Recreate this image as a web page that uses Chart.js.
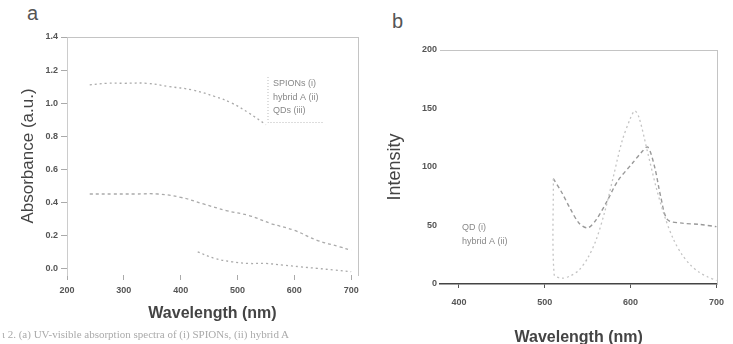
<!DOCTYPE html>
<html>
<head>
<meta charset="utf-8">
<script src="https://cdn.jsdelivr.net/npm/chart.js@4/dist/chart.umd.min.js"></script>
<style>
	html, body { margin: 0; padding: 0; background: #fff; overflow: hidden; width: 733px; height: 344px; }
	canvas { position: absolute; top: 0; }
	.panel { position: absolute; font-family: 'Liberation Sans', Arial, sans-serif; font-size: 20px; color: #555; }
	#caption { position: absolute; left: 2px; top: 328px; font-family: 'Liberation Serif', serif; font-size: 11px; color: #aaa; white-space: nowrap; }
</style>
</head>
<body>
<div class="panel" style="left:27px; top:2px;">a</div>
<div class="panel" style="left:392px; top:10px;">b</div>
<canvas id="Absorbance" width="370" height="344" style="left:0px;"></canvas>
<canvas id="Emission" width="363" height="352" style="left:370px;"></canvas>
<div id="caption">ι 2. (a) UV-visible absorption spectra of (i) SPIONs, (ii) hybrid A</div>
<script>
// panel a: absorbance
const absNames = ['SPIONs (i)', 'hybrid A (ii)', 'QDs (iii)'];
const spionWl = [240, 270, 300, 340, 380, 420, 460, 490, 520, 550];
const spionAbs = [1.11, 1.12, 1.12, 1.12, 1.10, 1.08, 1.04, 1.00, 0.94, 0.87];
const hybridWl = [240, 280, 320, 360, 400, 440, 480, 520, 560, 600, 640, 680, 700];
const hybridAbs = [0.45, 0.45, 0.45, 0.45, 0.43, 0.39, 0.35, 0.32, 0.27, 0.23, 0.17, 0.13, 0.11];
const qdWl = [430, 460, 490, 520, 550, 580, 610, 640, 670, 700];
const qdAbs = [0.10, 0.06, 0.04, 0.03, 0.03, 0.02, 0.01, 0.0, -0.01, -0.02];
const absTicksX = [200, 300, 400, 500, 600, 700];
const absTicksY = [0.0, 0.2, 0.4, 0.6, 0.8, 1.0, 1.2, 1.4];

// panel b: emission
const emNames = ['QD (i)', 'hybrid A (ii)'];
const qdEmWl = [510, 511, 520, 530, 540, 550, 560, 570, 580, 590, 600, 605, 610, 620, 630, 640, 650, 660, 670, 680, 690, 700];
const qdEm = [90, 8, 5, 7, 12, 22, 38, 62, 92, 122, 142, 148, 142, 112, 82, 57, 38, 25, 16, 10, 6, 3];
const hybridEmWl = [510, 520, 530, 540, 550, 560, 572, 585, 603, 612, 620, 628, 635, 643, 660, 680, 700];
const hybridEm = [90, 78, 64, 52, 48, 55, 70, 88, 104, 112, 117, 100, 75, 55, 52, 51, 49];
const emTicksX = [400, 500, 600, 700];
const emTicksY = [0, 50, 100, 150, 200];

const pts = (xs, ys) => xs.map((x, i) => ({x: x, y: ys[i]}));
const fixTicks = vals => scale => { scale.ticks = vals.map(v => ({value: v})); };
const fixWidth = w => scale => { scale.width = w; };
const fixHeight = h => scale => { scale.height = h; };
const tickFont = {family: "'Liberation Sans', Arial, sans-serif", size: 9, weight: 'bold'};

const frameAxis = (pos) => ({
	position: pos,
	display: true,
	ticks: {display: false},
	grid: {display: false},
	border: {display: true, color: '#c4c4c4', dash: [2, 3]},
	afterFit: pos === 'top' ? fixHeight(0) : fixWidth(0)
});

// little legend text blocks drawn inside the plot area
function legendPlugin(names, x0, y0, step, box) {
	return {
		id: 'legendText',
		afterDraw(chart) {
			const ctx = chart.ctx;
			ctx.save();
			ctx.fillStyle = '#888';
			ctx.font = "9px 'Liberation Sans', Arial, sans-serif";
			ctx.textBaseline = 'middle';
			names.forEach((n, i) => ctx.fillText(n, x0, y0 + i * step));
			if (box) {
				ctx.strokeStyle = '#bbb';
				ctx.setLineDash([1, 2]);
				ctx.beginPath();
				ctx.moveTo(x0 - 5, y0 - 7);
				ctx.lineTo(x0 - 5, y0 + step * names.length - 2);
				ctx.lineTo(x0 + 50, y0 + step * names.length - 2);
				ctx.stroke();
			}
			ctx.restore();
		}
	};
}

const absCtx = document.getElementById('Absorbance').getContext('2d');
window.absChart = new Chart(absCtx, {
	type: 'line',
	data: {
		datasets: [{
			label: absNames[0],
			data: pts(spionWl, spionAbs),
			borderColor: '#aaa',
			borderWidth: 1.3,
			borderDash: [2, 3],
			pointRadius: 0,
			tension: 0.4
		}, {
			label: absNames[1],
			data: pts(hybridWl, hybridAbs),
			borderColor: '#aaa',
			borderWidth: 1.3,
			borderDash: [3, 3],
			pointRadius: 0,
			tension: 0.4
		}, {
			label: absNames[2],
			data: pts(qdWl, qdAbs),
			borderColor: '#aaa',
			borderWidth: 1.3,
			borderDash: [2, 3],
			pointRadius: 0,
			tension: 0.4
		}]
	},
	options: {
		responsive: false,
		animation: false,
		layout: {padding: {top: 37, right: 12, left: 0, bottom: 0}},
		plugins: {legend: {display: false}, tooltip: {enabled: false}},
		scales: {
			x: {
				type: 'linear',
				min: 200,
				max: 712,
				afterBuildTicks: fixTicks(absTicksX),
				afterFit: fixHeight(69),
				ticks: {color: '#555', font: tickFont, padding: 5, maxRotation: 0},
				grid: {drawOnChartArea: false, tickLength: 5, color: '#aaa'},
				border: {display: false},
				title: {display: true, text: 'Wavelength (nm)', color: '#444', padding: {top: 0, bottom: 21},
					font: {family: "'Liberation Sans', Arial, sans-serif", size: 16, weight: 'bold'}}
			},
			y: {
				min: -0.04,
				max: 1.4,
				afterBuildTicks: fixTicks(absTicksY),
				afterFit: fixWidth(67),
				ticks: {color: '#555', font: tickFont, padding: 3, callback: v => v.toFixed(1)},
				grid: {drawOnChartArea: false, tickLength: 6, color: '#aaa'},
				border: {display: true, color: '#ccc', dash: [2, 2]},
				title: {display: true, text: 'Absorbance (a.u.)', color: '#444', padding: {top: 18, bottom: 0},
					font: {family: "'Liberation Sans', Arial, sans-serif", size: 17}}
			},
			x2: frameAxis('top'),
			y2: frameAxis('right')
		}
	},
	plugins: [legendPlugin(absNames, 273, 84, 13.5, true)]
});

const emCtx = document.getElementById('Emission').getContext('2d');
window.emChart = new Chart(emCtx, {
	type: 'line',
	data: {
		datasets: [{
			label: emNames[0],
			data: pts(qdEmWl, qdEm),
			borderColor: '#c4c4c4',
			borderWidth: 1.3,
			borderDash: [2, 3],
			pointRadius: 0,
			tension: 0.3
		}, {
			label: emNames[1],
			data: pts(hybridEmWl, hybridEm),
			borderColor: '#999',
			borderWidth: 1.4,
			borderDash: [4, 3],
			pointRadius: 0,
			tension: 0.3
		}]
	},
	options: {
		responsive: false,
		animation: false,
		layout: {padding: {top: 50, right: 10, left: 0, bottom: 0}},
		plugins: {legend: {display: false}, tooltip: {enabled: false}},
		scales: {
			x: {
				type: 'linear',
				min: 378,
				max: 701,
				afterBuildTicks: fixTicks(emTicksX),
				afterFit: fixHeight(68),
				ticks: {color: '#555', font: tickFont, padding: 9, maxRotation: 0},
				grid: {drawOnChartArea: false, tickLength: 4, color: '#555'},
				border: {display: true, color: '#444', width: 1.5},
				title: {display: true, text: 'Wavelength (nm)', color: '#444', padding: {top: 0, bottom: 5},
					font: {family: "'Liberation Sans', Arial, sans-serif", size: 16, weight: 'bold'}}
			},
			y: {
				min: 0,
				max: 200,
				afterBuildTicks: fixTicks(emTicksY),
				afterFit: fixWidth(70),
				ticks: {color: '#555', font: tickFont, padding: 3},
				grid: {drawOnChartArea: false, tickLength: 0},
				border: {display: false},
				title: {display: true, text: 'Intensity', color: '#444', padding: {top: 14, bottom: 0},
					font: {family: "'Liberation Sans', Arial, sans-serif", size: 18}}
			},
			x2: frameAxis('top'),
			y2: frameAxis('right')
		}
	},
	plugins: [legendPlugin(emNames, 92, 228, 14, false)]
});
</script>
</body>
</html>
